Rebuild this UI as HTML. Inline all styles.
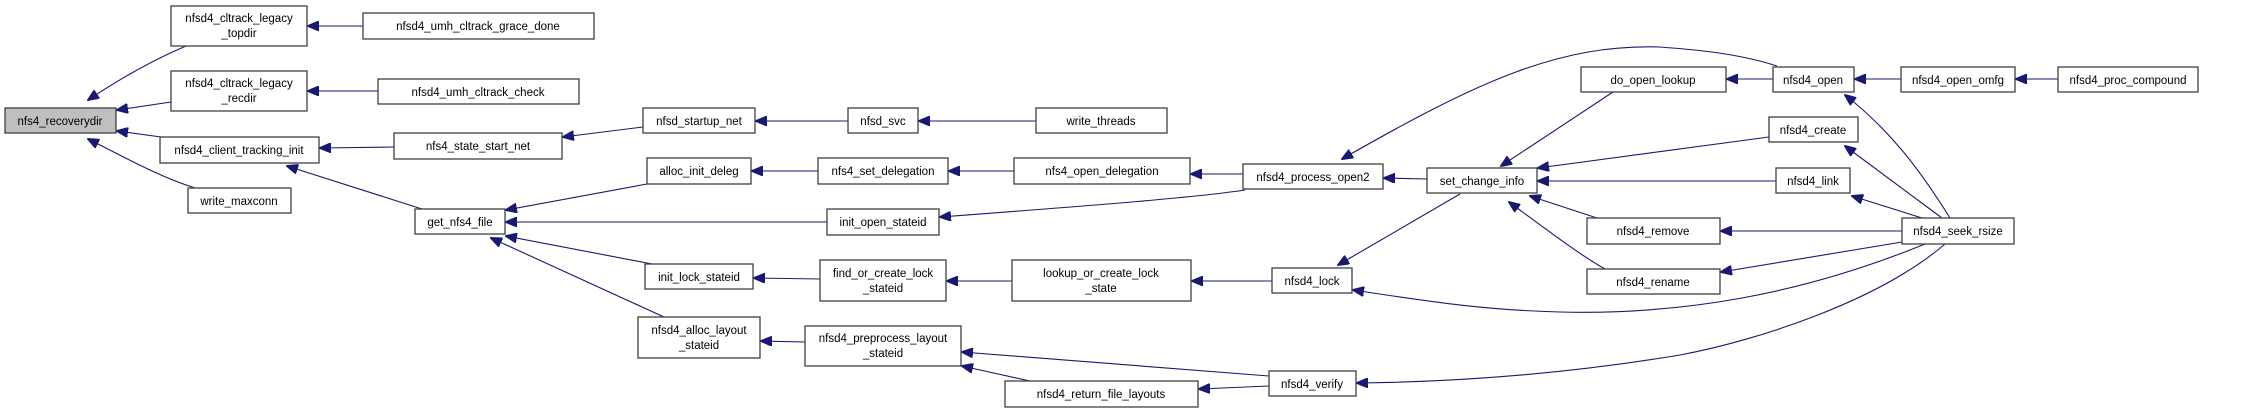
<!DOCTYPE html>
<html><head><meta charset="utf-8"><style>
html,body{margin:0;padding:0;background:#fff;}
svg{display:block;}
text{font-family:"Liberation Sans",sans-serif;font-size:11.5px;fill:#000;text-anchor:middle;}
rect{fill:#fff;stroke:#404040;stroke-width:1.3;}
path{fill:none;stroke:#191970;stroke-width:1.1;}
</style></head><body>
<svg width="2256" height="413" viewBox="0 0 2256 413" xmlns="http://www.w3.org/2000/svg">
<defs><marker id="a" markerWidth="12" markerHeight="10" refX="11" refY="5" orient="auto" markerUnits="userSpaceOnUse"><path d="M0,0 L12,5 L0,10 Z" style="fill:#191970;stroke:#191970"/></marker></defs>
<g marker-end="url(#a)">
<path d="M186,46 C160,57 130,72 88,100"/>
<path d="M171,102 L117,110"/>
<path d="M161,137 L117,131"/>
<path d="M195,188 C160,177 130,160 88,139"/>
<path d="M363,26 L308,26"/>
<path d="M378,91 L308,91"/>
<path d="M394,147 L320,148"/>
<path d="M422,209 L287,166"/>
<path d="M643,127 L563,137"/>
<path d="M848,121 L756,121"/>
<path d="M1036,121 L919,121"/>
<path d="M647,184 L506,210"/>
<path d="M827,222 L506,222"/>
<path d="M652,264 L506,236"/>
<path d="M664,317 L491,238"/>
<path d="M818,171 L752,171"/>
<path d="M1014,171 L949,171"/>
<path d="M1243,174 L1191,174"/>
<path d="M1245,190 C1200,197 1100,205 940,217"/>
<path d="M820,279 L754,278"/>
<path d="M1012,281 L947,281"/>
<path d="M1272,281 L1192,281"/>
<path d="M805,342 L761,341"/>
<path d="M1269,376 L962,352"/>
<path d="M1030,381 L962,366"/>
<path d="M1269,386 L1199,389"/>
<path d="M1427,179 L1384,178"/>
<path d="M1460,194 L1338,265"/>
<path d="M1777,66 C1740,54 1700,50 1660,47 C1560,44 1480,80 1342,159"/>
<path d="M1613,92 L1501,166"/>
<path d="M1773,79 L1727,79"/>
<path d="M1769,137 L1538,168"/>
<path d="M1776,181 L1538,181"/>
<path d="M1597,218 L1530,196"/>
<path d="M1605,269 C1580,255 1550,232 1509,202"/>
<path d="M1901,79 L1855,79"/>
<path d="M2058,79 L2016,79"/>
<path d="M1950,218 C1920,170 1890,130 1845,95"/>
<path d="M1942,218 L1845,146"/>
<path d="M1922,218 L1852,196"/>
<path d="M1902,231 L1721,231"/>
<path d="M1902,242 L1721,272"/>
<path d="M1925,244 C1800,295 1680,315 1560,312 C1480,310 1420,300 1353,290"/>
<path d="M1945,244 C1880,300 1760,340 1680,355 C1560,375 1450,382 1357,383"/>
</g>
<rect x="5" y="108" width="111" height="25" style="fill:#bfbfbf"/><text x="60" y="125">nfs4_recoverydir</text>
<rect x="171" y="6" width="136" height="40"/><text x="239" y="22">nfsd4_cltrack_legacy</text><text x="239" y="37">_topdir</text>
<rect x="171" y="71" width="136" height="40"/><text x="239" y="87">nfsd4_cltrack_legacy</text><text x="239" y="102">_recdir</text>
<rect x="160" y="137" width="159" height="26"/><text x="239" y="154">nfsd4_client_tracking_init</text>
<rect x="188" y="188" width="103" height="25"/><text x="239" y="205">write_maxconn</text>
<rect x="363" y="13" width="231" height="26"/><text x="478" y="30">nfsd4_umh_cltrack_grace_done</text>
<rect x="378" y="79" width="201" height="25"/><text x="478" y="96">nfsd4_umh_cltrack_check</text>
<rect x="394" y="133" width="168" height="26"/><text x="478" y="150">nfs4_state_start_net</text>
<rect x="415" y="209" width="90" height="25"/><text x="460" y="226">get_nfs4_file</text>
<rect x="643" y="108" width="112" height="25"/><text x="699" y="125">nfsd_startup_net</text>
<rect x="848" y="108" width="70" height="25"/><text x="883" y="125">nfsd_svc</text>
<rect x="1036" y="108" width="131" height="25"/><text x="1101" y="125">write_threads</text>
<rect x="647" y="158" width="104" height="26"/><text x="699" y="175">alloc_init_deleg</text>
<rect x="818" y="158" width="130" height="26"/><text x="883" y="175">nfs4_set_delegation</text>
<rect x="1014" y="158" width="176" height="26"/><text x="1102" y="175">nfs4_open_delegation</text>
<rect x="827" y="209" width="112" height="26"/><text x="883" y="226">init_open_stateid</text>
<rect x="645" y="264" width="108" height="25"/><text x="699" y="281">init_lock_stateid</text>
<rect x="820" y="260" width="126" height="41"/><text x="883" y="277">find_or_create_lock</text><text x="883" y="292">_stateid</text>
<rect x="1012" y="260" width="179" height="41"/><text x="1101" y="277">lookup_or_create_lock</text><text x="1101" y="292">_state</text>
<rect x="638" y="317" width="122" height="41"/><text x="699" y="334">nfsd4_alloc_layout</text><text x="699" y="349">_stateid</text>
<rect x="805" y="326" width="156" height="40"/><text x="883" y="342">nfsd4_preprocess_layout</text><text x="883" y="357">_stateid</text>
<rect x="1005" y="381" width="193" height="26"/><text x="1101" y="398">nfsd4_return_file_layouts</text>
<rect x="1243" y="164" width="140" height="25"/><text x="1313" y="181">nfsd4_process_open2</text>
<rect x="1427" y="168" width="110" height="25"/><text x="1482" y="185">set_change_info</text>
<rect x="1272" y="268" width="80" height="25"/><text x="1312" y="285">nfsd4_lock</text>
<rect x="1269" y="371" width="87" height="25"/><text x="1312" y="388">nfsd4_verify</text>
<rect x="1581" y="67" width="145" height="25"/><text x="1653" y="84">do_open_lookup</text>
<rect x="1773" y="67" width="81" height="25"/><text x="1813" y="84">nfsd4_open</text>
<rect x="1901" y="67" width="114" height="25"/><text x="1958" y="84">nfsd4_open_omfg</text>
<rect x="2058" y="67" width="140" height="25"/><text x="2128" y="84">nfsd4_proc_compound</text>
<rect x="1769" y="117" width="89" height="25"/><text x="1813" y="134">nfsd4_create</text>
<rect x="1776" y="168" width="74" height="25"/><text x="1813" y="185">nfsd4_link</text>
<rect x="1587" y="218" width="133" height="26"/><text x="1653" y="235">nfsd4_remove</text>
<rect x="1587" y="269" width="133" height="25"/><text x="1653" y="286">nfsd4_rename</text>
<rect x="1902" y="218" width="112" height="26"/><text x="1958" y="235">nfsd4_seek_rsize</text>
</svg>
</body></html>
